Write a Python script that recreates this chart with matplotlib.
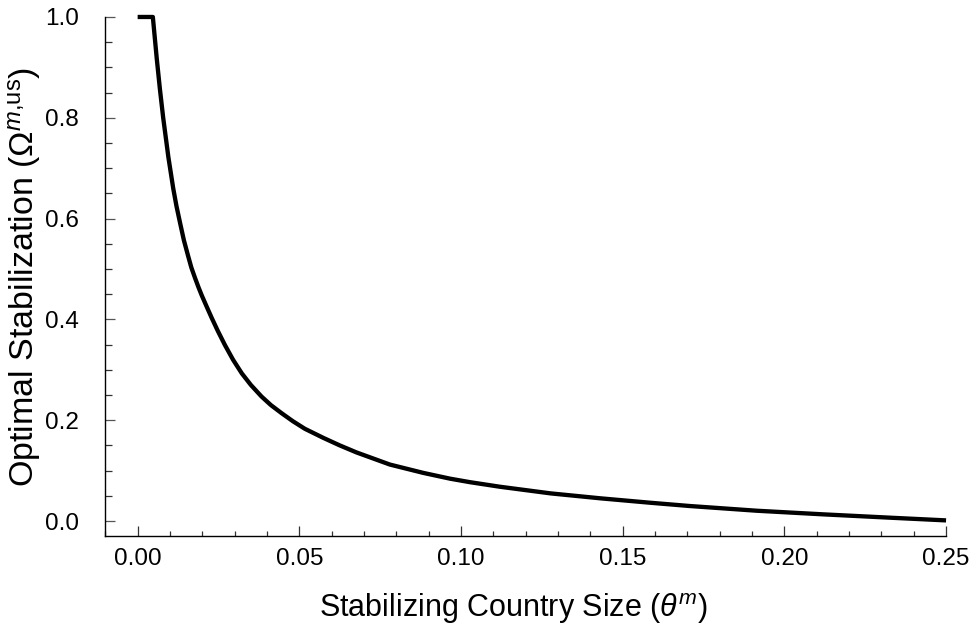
import matplotlib
matplotlib.use("Agg")
import matplotlib.pyplot as plt
from matplotlib.ticker import MultipleLocator, FormatStrFormatter

plt.rcParams["font.family"] = ["Liberation Sans", "DejaVu Sans"]
plt.rcParams["mathtext.fontset"] = "custom"
plt.rcParams["mathtext.rm"] = "Liberation Sans"
plt.rcParams["mathtext.it"] = "Liberation Sans:italic"
plt.rcParams["mathtext.bf"] = "Liberation Sans:bold"

# Stabilizing country size and the optimal stabilization share
theta_m = [0.0, 0.0047, 0.0059, 0.0069, 0.0079, 0.0095, 0.0110, 0.0120,
           0.0131, 0.0143, 0.0156, 0.0166, 0.0177, 0.0188, 0.0198, 0.0213,
           0.0229, 0.0248, 0.0270, 0.0295, 0.0322, 0.0350, 0.0383, 0.0412,
           0.0445, 0.0480, 0.0517, 0.0574, 0.0625, 0.0677, 0.0780, 0.0883,
           0.0966, 0.1028, 0.1120, 0.1277, 0.1431, 0.1584, 0.1708, 0.1914,
           0.2120, 0.2326, 0.2500]
omega_us = [1.0, 1.0, 0.918, 0.856, 0.800, 0.722, 0.660, 0.625,
            0.592, 0.557, 0.526, 0.503, 0.483, 0.464, 0.448, 0.426,
            0.403, 0.377, 0.349, 0.320, 0.293, 0.270, 0.247, 0.230,
            0.214, 0.198, 0.183, 0.165, 0.150, 0.136, 0.112, 0.0955,
            0.0840, 0.0770, 0.0680, 0.0548, 0.0450, 0.0363, 0.0297, 0.0204,
            0.0132, 0.0066, 0.0012]

x_ticks = [0.00, 0.05, 0.10, 0.15, 0.20, 0.25]
y_ticks = [0.0, 0.2, 0.4, 0.6, 0.8, 1.0]

fig = plt.figure(figsize=(9.73, 6.31), dpi=100)
ax = fig.add_axes([0.1079, 0.1506, 0.8644, 0.8225])

ax.plot(theta_m, omega_us, color="black", lw=3.1, solid_joinstyle="round",
        solid_capstyle="butt", clip_on=False)

ax.set_xlim(-0.0101, 0.25)
ax.set_ylim(-0.0297, 1.0)

for side in ("top", "right"):
    ax.spines[side].set_visible(False)
for side in ("left", "bottom"):
    ax.spines[side].set_linewidth(1.0)
    ax.spines[side].set_color("black")

ax.set_xticks(x_ticks)
ax.set_yticks(y_ticks)
ax.xaxis.set_major_formatter(FormatStrFormatter("%.2f"))
ax.yaxis.set_major_formatter(FormatStrFormatter("%.1f"))
ax.xaxis.set_minor_locator(MultipleLocator(0.01))
ax.yaxis.set_minor_locator(MultipleLocator(0.05))

ax.tick_params(axis="x", which="major", direction="in", length=7.5, width=0.9,
               color="#333333", labelsize=17.5, pad=8.5)
ax.tick_params(axis="x", which="minor", direction="in", length=3.6, width=0.9,
               color="#333333")
ax.tick_params(axis="y", which="major", direction="in", length=7.5, width=0.9,
               color="#555555", labelsize=17.5, pad=19)
ax.tick_params(axis="y", which="minor", direction="in", length=4.8, width=0.9,
               color="#333333")

ax.set_xlabel(r"Stabilizing Country Size ($\theta^m$)", fontsize=22)
ax.set_ylabel(r"Optimal Stabilization ($\Omega^{m{,}\mathrm{us}}$)", fontsize=24.5)
ax.xaxis.set_label_coords(0.486, -0.107)
ax.yaxis.set_label_coords(-0.074, 0.5)

fig.savefig("out.png", dpi=100, facecolor="white")
